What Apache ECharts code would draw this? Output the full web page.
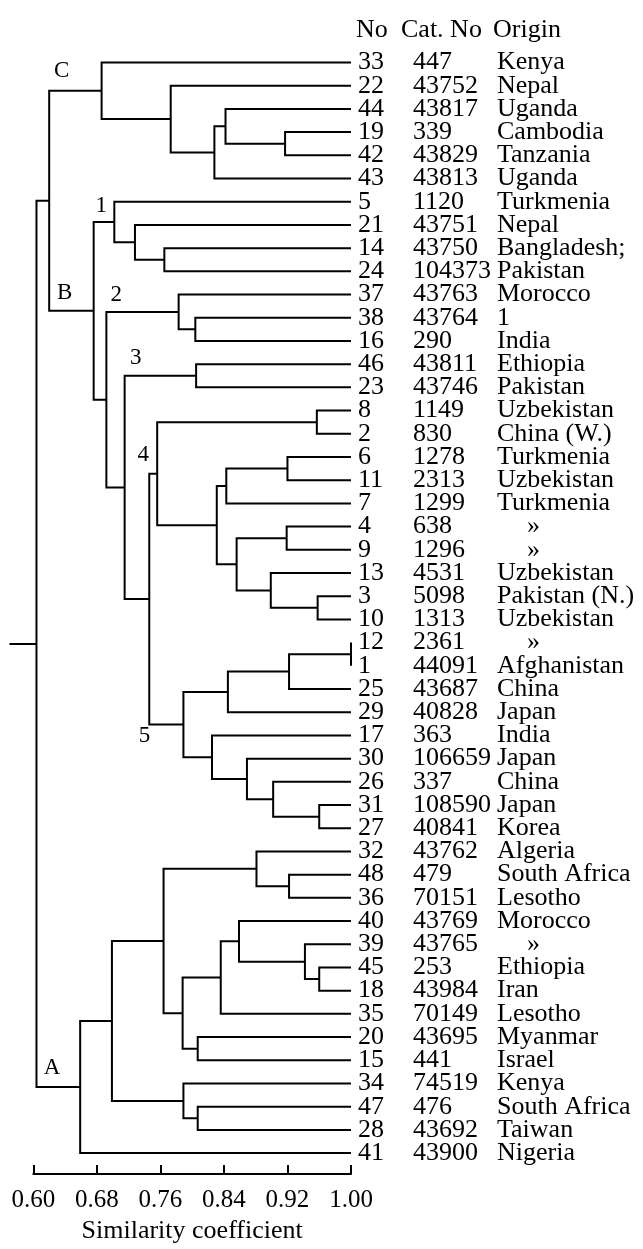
<!DOCTYPE html>
<html>
<head>
<meta charset="utf-8">
<script src="https://cdn.jsdelivr.net/npm/echarts@6/dist/echarts.min.js"></script>
<style>
html,body{margin:0;padding:0;background:#fff;}
#main{width:643px;height:1249px;}
</style>
</head>
<body>
<div id="main"></div>
<script>
// leaves, top to bottom
var leafNo = [33,22,44,19,42,43,5,21,14,24,37,38,16,46,23,8,2,6,11,7,4,9,13,3,10,12,1,25,29,17,30,26,31,27,32,48,36,40,39,45,18,35,20,15,34,47,28,41];
var catNo = ['447','43752','43817','339','43829','43813','1120','43751','43750','104373','43763','43764','290','43811','43746','1149','830','1278','2313','1299','638','1296','4531','5098','1313','2361','44091','43687','40828','363','106659','337','108590','40841','43762','479','70151','43769','43765','253','43984','70149','43695','441','74519','476','43692','43900'];
var origin = ['Kenya','Nepal','Uganda','Cambodia','Tanzania','Uganda','Turkmenia','Nepal','Bangladesh;','Pakistan','Morocco','1','India','Ethiopia','Pakistan','Uzbekistan','China (W.)','Turkmenia','Uzbekistan','Turkmenia','»','»','Uzbekistan','Pakistan (N.)','Uzbekistan','»','Afghanistan','China','Japan','India','Japan','China','Japan','Korea','Algeria','South Africa','Lesotho','Morocco','»','Ethiopia','Iran','Lesotho','Myanmar','Israel','Kenya','South Africa','Taiwan','Nigeria'];

// merges: [node, left, right, similarity]
var merges = [
    ['w', 19, 42, 0.917],
    ['z', 44, 'w', 0.842],
    ['y', 'z', 43, 0.828],
    ['x', 22, 'y', 0.773],
    ['C', 33, 'x', 0.686],
    ['u', 14, 24, 0.765],
    ['v', 21, 'u', 0.728],
    ['n1', 5, 'v', 0.702],
    ['t', 38, 16, 0.804],
    ['s', 37, 't', 0.783],
    ['r', 46, 23, 0.805],
    ['q', 8, 2, 0.957],
    ['p1', 6, 11, 0.920],
    ['p2', 'p1', 7, 0.843],
    ['p3', 4, 9, 0.919],
    ['p4', 3, 10, 0.958],
    ['p5', 13, 'p4', 0.899],
    ['p6', 'p3', 'p5', 0.856],
    ['m', 'p2', 'p6', 0.831],
    ['n4', 'q', 'm', 0.756],
    ['o1', 12, 1, 1.00],
    ['o2', 'o1', 25, 0.922],
    ['o3', 'o2', 29, 0.845],
    ['o4', 31, 27, 0.960],
    ['o5', 26, 'o4', 0.902],
    ['o6', 30, 'o5', 0.869],
    ['o7', 17, 'o6', 0.825],
    ['n5', 'o3', 'o7', 0.789],
    ['n45', 'n4', 'n5', 0.746],
    ['n3', 'r', 'n45', 0.715],
    ['n2', 's', 'n3', 0.692],
    ['B', 'n1', 'n2', 0.676],
    ['CB', 'C', 'B', 0.620],
    ['a1', 48, 36, 0.922],
    ['a2', 32, 'a1', 0.881],
    ['a3', 45, 18, 0.960],
    ['a4', 39, 'a3', 0.942],
    ['a5', 40, 'a4', 0.859],
    ['a6', 'a5', 35, 0.836],
    ['a7', 20, 15, 0.807],
    ['a8', 'a6', 'a7', 0.788],
    ['a9', 'a2', 'a8', 0.764],
    ['a10', 47, 28, 0.807],
    ['a11', 34, 'a10', 0.789],
    ['a12', 'a9', 'a11', 0.699],
    ['A', 'a12', 41, 0.659],
    ['root', 'CB', 'A', 0.604]
];
var rootStub = 0.57;

// cluster names: [text, node]
var clusterNames = [['C','C'],['B','B'],['1','n1'],['2','n2'],['3','n3'],['4','n4'],['5','n5'],['A','A']];
// where the name sits: anchor 'node' or 'top' (upper child row), pixel shift
var nameOffset = {
    C: ['node', -40, -20], B: ['node', -29, -18], '1': ['node', -13, -16],
    '2': ['top', 10, -17], '3': ['top', 11, -18], '4': ['node', -14, -19],
    '5': ['node', -39, 11], A: ['node', -28, -19]
};

var FONT = 'Liberation Serif, Times New Roman, serif';

// layout of the tree from the merges
var pos = {};
leafNo.forEach(function(n, i) { pos[n] = [1.0, i]; });
var links = [];
merges.forEach(function(m) {
    var a = pos[m[1]], b = pos[m[2]];
    pos[m[0]] = [m[3], (a[1] + b[1]) / 2, a[1]];
    links.push([m[3], a[1], a[0], b[1], b[0]]);
});
links.push([rootStub, pos.root[1], pos.root[0], pos.root[1], pos.root[0]]);

var nameData = clusterNames.map(function(c, k) {
    var p = pos[c[1]];
    var o = nameOffset[c[0]];
    return [p[0], o[0] == 'top' ? p[2] : p[1], k];
});
var leafData = leafNo.map(function(n, i) { return [1.0, i, i]; });

var myChart = echarts.init(document.getElementById('main'));
var option = {
    animation: false,
    backgroundColor: '#fff',
    grid: { left: 33.3, right: 292, top: 62.5, bottom: 83 },
    xAxis: {
        type: 'value', min: 0.6, max: 1.0, interval: 0.08,
        position: 'bottom', offset: 21,
        axisLine: { onZero: false, lineStyle: { color: '#000', width: 2 } },
        axisTick: { inside: true, length: 9, lineStyle: { color: '#000', width: 2 } },
        axisLabel: { color: '#000', fontSize: 25, fontFamily: FONT, margin: 14,
            formatter: function(v) { return v.toFixed(2); } },
        splitLine: { show: false },
        name: 'Similarity coefficient', nameLocation: 'middle', nameGap: 42,
        nameTextStyle: { color: '#000', fontSize: 26, fontFamily: FONT }
    },
    yAxis: { type: 'value', inverse: true, min: 0, max: 47, show: false },
    graphic: [
        { type: 'text', left: 356, top: 17, style: { text: 'No', fontSize: 26, fontFamily: FONT, fill: '#000' } },
        { type: 'text', left: 401, top: 17, style: { text: 'Cat. No', fontSize: 26, fontFamily: FONT, fill: '#000' } },
        { type: 'text', left: 493, top: 17, style: { text: 'Origin', fontSize: 26, fontFamily: FONT, fill: '#000' } }
    ],
    series: [{
        type: 'custom',
        clip: false,
        data: links,
        renderItem: function(params, api) {
            var s = api.value(0);
            var top1 = api.coord([api.value(2), api.value(1)]);
            var top2 = api.coord([s, api.value(1)]);
            var bot2 = api.coord([s, api.value(3)]);
            var bot1 = api.coord([api.value(4), api.value(3)]);
            return {
                type: 'polyline',
                shape: { points: [top1, top2, bot2, bot1] },
                style: { stroke: '#000', lineWidth: 2, fill: null }
            };
        }
    }, {
        type: 'custom',
        clip: false,
        data: leafData,
        renderItem: function(params, api) {
            var i = api.value(2);
            var p = api.coord([api.value(0), api.value(1)]);
            var ts = { fontSize: 26, fontFamily: FONT, fill: '#000', verticalAlign: 'middle' };
            var o = origin[i];
            return {
                type: 'group',
                children: [
                    { type: 'text', x: p[0] + 7, y: p[1], style: Object.assign({ text: String(leafNo[i]) }, ts) },
                    { type: 'text', x: p[0] + 62, y: p[1], style: Object.assign({ text: catNo[i] }, ts) },
                    { type: 'text', x: p[0] + (o == '»' ? 176 : 146), y: p[1], style: Object.assign({ text: o }, ts) }
                ]
            };
        }
    }, {
        type: 'custom',
        clip: false,
        data: nameData,
        renderItem: function(params, api) {
            var c = clusterNames[api.value(2)][0];
            var o = nameOffset[c];
            var p = api.coord([api.value(0), api.value(1)]);
            return {
                type: 'text', x: p[0] + o[1], y: p[1] + o[2],
                style: { text: c, fontSize: 23, fontFamily: FONT, fill: '#000', align: 'center', verticalAlign: 'middle' }
            };
        }
    }]
};
myChart.setOption(option);
</script>
</body>
</html>
